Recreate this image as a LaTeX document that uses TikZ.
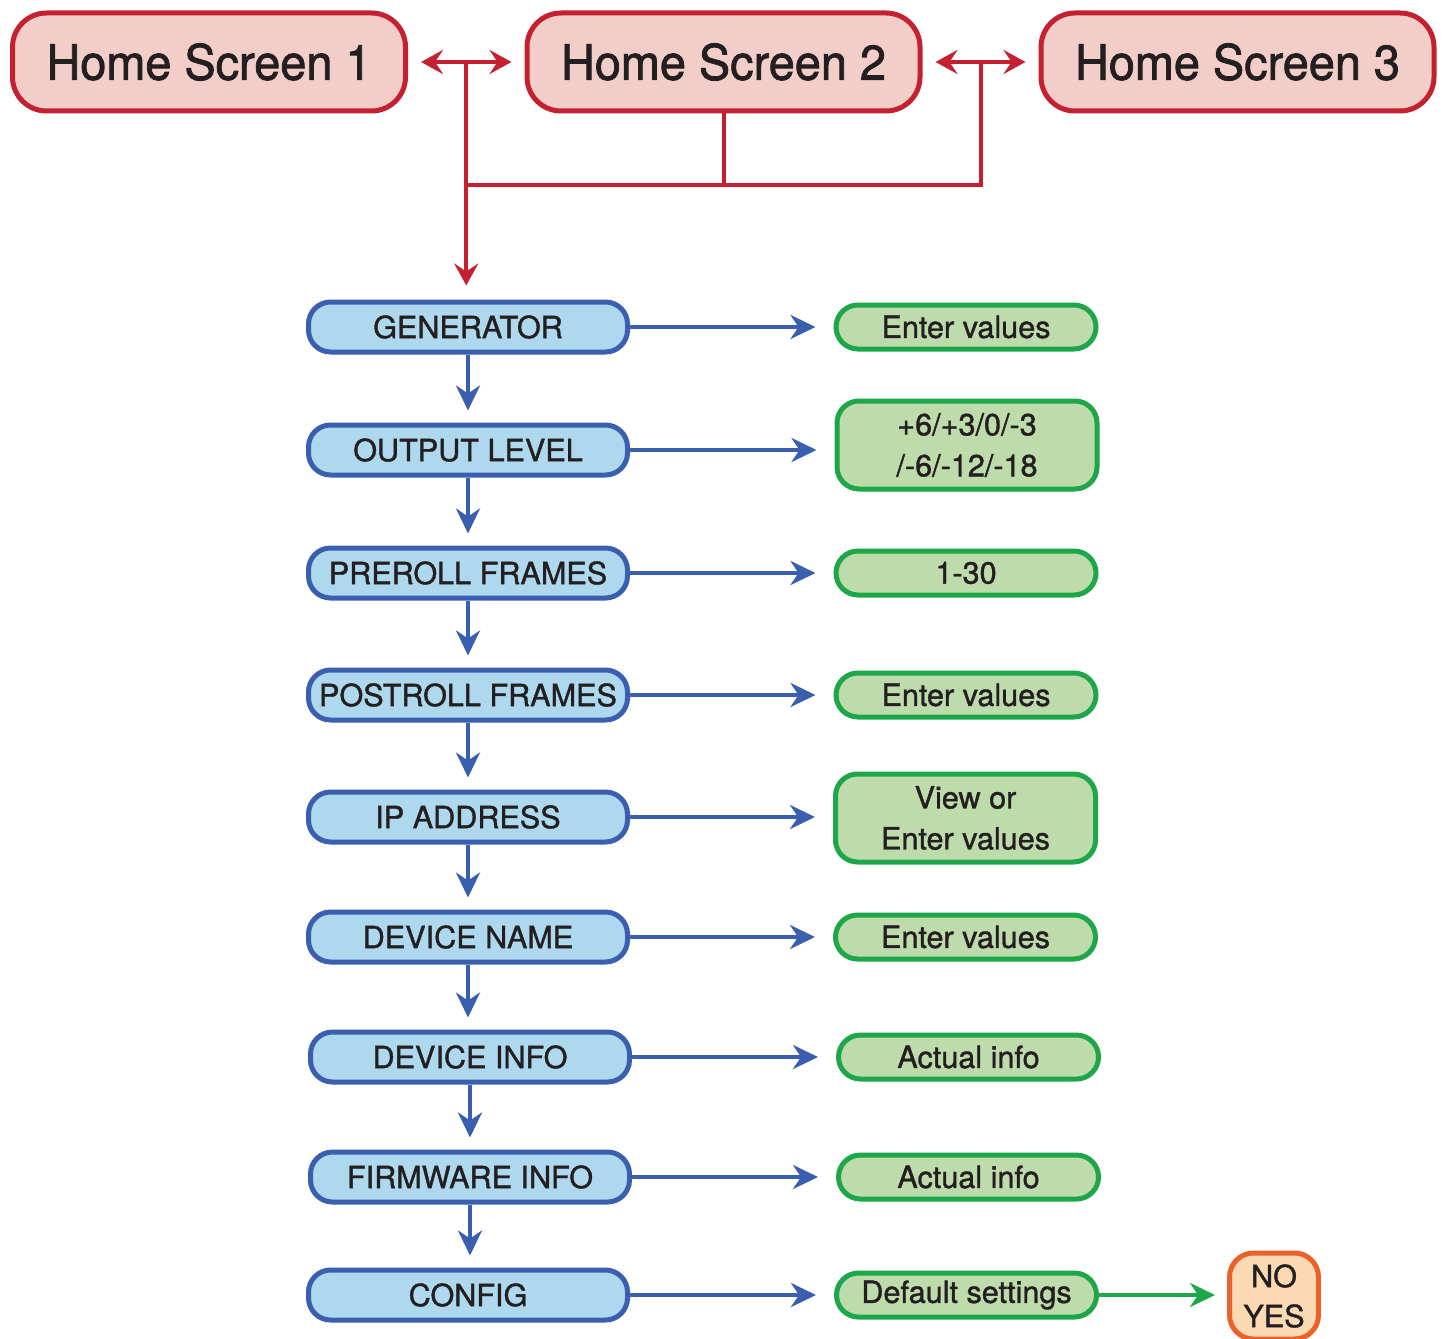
\documentclass[tikz,border=0pt]{standalone}
\usepackage{fontspec}
\setmainfont{TeX Gyre Heros}[FakeBold=1.2]
\newfontfamily\homefont{TeX Gyre Heros}[FakeBold=1.6,FakeStretch=0.96]
\usetikzlibrary{arrows.meta,calc}
\definecolor{hsred}{HTML}{C4202F}
\definecolor{hsfill}{HTML}{F3CEC9}
\definecolor{bstroke}{HTML}{3A5FAE}
\definecolor{bfill}{HTML}{AED8EE}
\definecolor{gstroke}{HTML}{1DA64A}
\definecolor{gfill}{HTML}{BEDBAB}
\definecolor{ostroke}{HTML}{E9622B}
\definecolor{ofill}{HTML}{FAD9B3}
\definecolor{txt}{HTML}{231F20}
\begin{document}
\begin{tikzpicture}[x=0.5pt,y=-0.5pt,
  home/.style={draw=hsred, fill=hsfill, line width=2.5pt, rounded corners=17pt,
    minimum width=196.5pt, minimum height=49pt, inner sep=0pt,
    font=\homefont\fontsize{24.4}{28}\selectfont, text=txt},
  menu/.style={draw=bstroke, fill=bfill, line width=2.5pt, rounded corners=11pt,
    minimum width=159.5pt, minimum height=25pt, inner sep=0pt,
    font=\fontsize{15.3}{18}\selectfont, text=txt},
  val/.style={draw=gstroke, fill=gfill, line width=2.5pt, rounded corners=11pt,
    minimum width=130pt, minimum height=22pt, inner sep=0pt, align=center,
    font=\fontsize{15.3}{20.5}\selectfont, text=txt},
  yesno/.style={draw=ostroke, fill=ofill, line width=2.5pt, rounded corners=12pt,
    minimum width=44.5pt, minimum height=43pt, inner sep=0pt, align=center,
    font=\fontsize{15.3}{20}\selectfont, text=txt},
  redline/.style={draw=hsred, line width=2pt},
  redarrow/.style={redline, -{Stealth[length=11pt,width=12pt,inset=4pt]}},
  redboth/.style={redline, {Stealth[length=11pt,width=12pt,inset=4pt]}-{Stealth[length=11pt,width=12pt,inset=4pt]}},
  bluearrow/.style={draw=bstroke, line width=2pt, -{Stealth[length=12.5pt,width=12pt,inset=4pt]}},
  greenarrow/.style={draw=gstroke, line width=2pt, -{Stealth[length=12.5pt,width=12pt,inset=4pt]}}
]
\useasboundingbox (0,0) rectangle (1445,1338);

% home screens
\node[home] (hs1) at (209,62) {Home Screen 1};
\node[home] (hs2) at (723.5,62) {Home Screen 2};
\node[home] (hs3) at (1237.5,62) {Home Screen 3};

% menu
\node[menu] (gen)  at (468,327) {GENERATOR};
\node[menu] (out)  at (468,450) {OUTPUT LEVEL};
\node[menu] (pre)  at (468,573) {PREROLL FRAMES};
\node[menu] (post) at (468,695) {POSTROLL FRAMES};
\node[menu] (ip)   at (468,817) {IP ADDRESS};
\node[menu] (dn)   at (468,937) {DEVICE NAME};
\node[menu] (di)   at (470,1057) {DEVICE INFO};
\node[menu] (fw)   at (470,1177) {FIRMWARE INFO};
\node[menu] (cfg)  at (468,1295) {CONFIG};

% values
\node[val] (v1) at (966,327) {Enter values};
\node[val, minimum height=44pt] (v2) at (967,445) {+6/+3/0/-3\\/-6/-12/-18};
\node[val] (v3) at (966,573) {1-30};
\node[val] (v4) at (966,695) {Enter values};
\node[val, minimum height=44pt] (v5) at (965.5,818) {View or\\Enter values};
\node[val] (v6) at (965.5,937) {Enter values};
\node[val] (v7) at (968.5,1057) {Actual info};
\node[val] (v8) at (968.5,1177) {Actual info};
\node[val] (v9) at (966.5,1295) {Default settings};
\node[yesno] (yn) at (1274,1296) {NO\\YES};

% red connectors
\coordinate (j1) at ($(hs1.east)!0.5!(hs2.west)$);
\coordinate (j2) at ($(hs2.east)!0.5!(hs3.west)$);
\draw[redboth, shorten <=6.5pt, shorten >=6.5pt] (hs1.east) -- (hs2.west);
\draw[redboth, shorten <=6.5pt, shorten >=6.5pt] (hs2.east) -- (hs3.west);
\coordinate (bar) at (0,185);
\draw[redline] (hs2.south) -- (hs2.south |- bar);
\draw[redline] (j1 |- bar) -- (j2 |- bar) -- (j2);
\draw[redarrow, shorten >=7pt] (j1) -- (j1 |- gen.north);

% down arrows
\foreach \a/\b in {gen/out, out/pre, pre/post, post/ip, ip/dn, dn/di, di/fw, fw/cfg}
  \draw[bluearrow, shorten >=6pt] (\a.south) -- (\a.south |- \b.north);

% right arrows
\foreach \a/\b in {gen/v1, out/v2, pre/v3, post/v4, ip/v5, dn/v6, di/v7, fw/v8, cfg/v9}
  \draw[bluearrow, shorten >=9pt] (\a.east) -- (\a.east -| \b.west);
\draw[greenarrow, shorten >=6pt] (v9.east) -- (v9.east -| yn.west);
\end{tikzpicture}
\end{document}
